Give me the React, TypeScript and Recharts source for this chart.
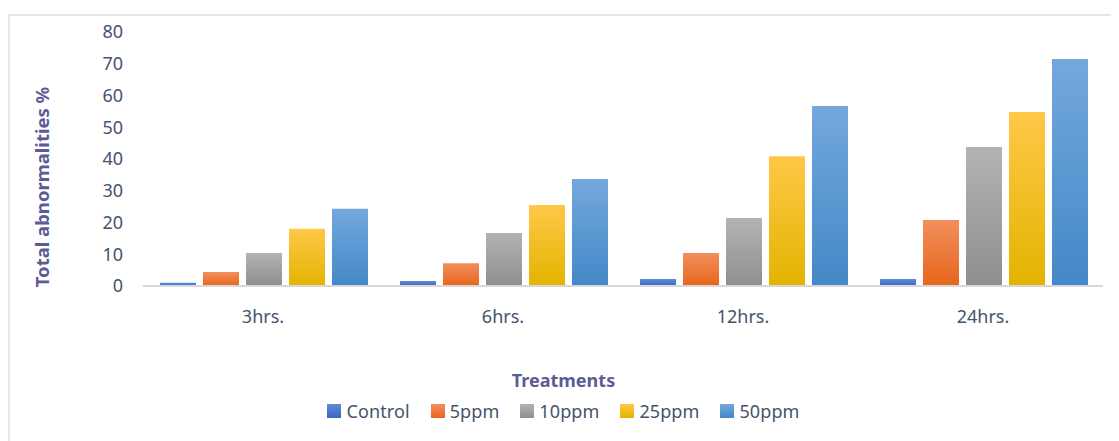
import React from "react";
import { BarChart, Bar, XAxis, YAxis, Legend, Label } from "recharts";

const categories = ["3hrs.", "6hrs.", "12hrs.", "24hrs."];
const control = [1, 1.6, 2.2, 2.2];
const ppm5 = [4.4, 7.2, 10.4, 20.8];
const ppm10 = [10.4, 16.7, 21.4, 43.8];
const ppm25 = [18, 25.5, 40.9, 54.8];
const ppm50 = [24.3, 33.7, 56.7, 71.5];
const yTicks = [0, 10, 20, 30, 40, 50, 60, 70, 80];

const data = categories.map((name, i) => ({
  name,
  Control: control[i],
  "5ppm": ppm5[i],
  "10ppm": ppm10[i],
  "25ppm": ppm25[i],
  "50ppm": ppm50[i],
}));

const series = [
  { key: "Control", id: "gControl", top: "#5F8BD9", bottom: "#3A67BF" },
  { key: "5ppm", id: "g5", top: "#F28F5D", bottom: "#E7651B" },
  { key: "10ppm", id: "g10", top: "#B3B3B3", bottom: "#8F8F8F" },
  { key: "25ppm", id: "g25", top: "#FFC847", bottom: "#E4B300" },
  { key: "50ppm", id: "g50", top: "#73A8DD", bottom: "#4388C7" },
];

const font = "'Noto Sans', sans-serif";
const textColor = "#44546A";
const titleColor = "#5B5B95";

// x-axis title + legend, centred on the whole chart like the Excel original
const LegendContent = () => (
  <div style={{ fontFamily: font, textAlign: "center" }}>
    <div style={{ color: titleColor, fontSize: 18, fontWeight: 700, lineHeight: "24px", marginBottom: 7 }}>
      Treatments
    </div>
    <div style={{ display: "flex", justifyContent: "center", fontSize: 18, color: textColor, lineHeight: "24px" }}>
      {series.map((s, i) => (
        <div
          key={s.key}
          style={{ display: "flex", alignItems: "center", marginRight: i < series.length - 1 ? 21 : 0 }}
        >
          <span
            style={{
              display: "inline-block",
              width: 14,
              height: 14,
              marginRight: 5,
              background: `linear-gradient(${s.top}, ${s.bottom})`,
            }}
          />
          <span style={{ letterSpacing: 0.1 }}>{s.key}</span>
        </div>
      ))}
    </div>
  </div>
);

const YTitle = (props: any) => {
  const vb = props.viewBox || {};
  const x = vb.x - 42;
  const y = vb.y + vb.height / 2 + 28;
  return (
    <text
      x={x}
      y={y}
      transform={`rotate(-90, ${x}, ${y})`}
      textAnchor="middle"
      dominantBaseline="central"
      style={{ fill: titleColor, fontSize: 18.5, fontWeight: 700, fontFamily: font }}
    >
      Total abnormalities %
    </text>
  );
};

export default function App() {
  return (
    <div style={{ position: "relative", width: 1111, height: 433 }}>
      <div
        style={{
          position: "absolute",
          left: 0,
          top: 6,
          width: 1120,
          height: 440,
          border: "2px solid #E3E7EC",
          boxSizing: "border-box",
        }}
      />
      <BarChart
        width={1111}
        height={433}
        data={data}
        margin={{ top: 24, right: 16, left: 75, bottom: 45 }}
        barCategoryGap={17}
        barGap={7}
        style={{ position: "absolute", left: 0, top: 0 }}
      >
        <defs>
          {series.map((s) => (
            <linearGradient key={s.id} id={s.id} x1="0" y1="0" x2="0" y2="1">
              <stop offset="0%" stopColor={s.top} />
              <stop offset="100%" stopColor={s.bottom} />
            </linearGradient>
          ))}
        </defs>
        <XAxis
          dataKey="name"
          height={110}
          tickLine={false}
          tickSize={0}
          tickMargin={24}
          axisLine={{ stroke: "#D9D9D9", strokeWidth: 2 }}
          tick={{ fill: textColor, fontSize: 18, fontFamily: font }}
        />
        <YAxis
          width={60}
          domain={[0, 80]}
          ticks={yTicks}
          interval={0}
          axisLine={false}
          tickLine={false}
          tickSize={0}
          tickMargin={20}
          tick={{ fill: textColor, fontSize: 18, fontFamily: font }}
        >
          <Label content={<YTitle />} />
        </YAxis>
        <Legend
          verticalAlign="middle"
          layout="horizontal"
          align="center"
          content={<LegendContent />}
          wrapperStyle={{ top: 360, left: 0, width: 1111 }}
        />
        {series.map((s) => (
          <Bar key={s.key} dataKey={s.key} fill={`url(#${s.id})`} isAnimationActive={false} />
        ))}
      </BarChart>
    </div>
  );
}
